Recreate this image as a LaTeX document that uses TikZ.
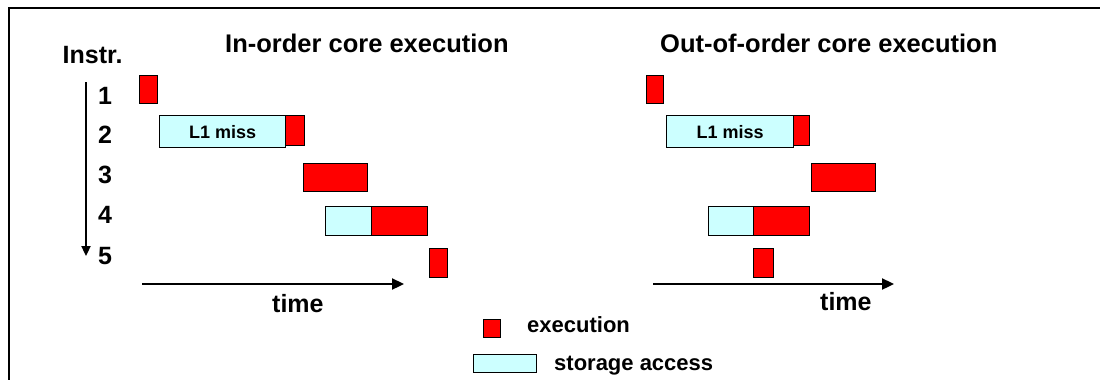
\documentclass[tikz,border=0pt]{standalone}
\usepackage{fontspec}
\setmainfont{Liberation Sans}
\usetikzlibrary{arrows.meta}
\definecolor{execred}{HTML}{FF0000}
\definecolor{storecyan}{HTML}{CCFFFF}
\tikzset{
  bar/.style={draw=black, line width=1.2pt, inner sep=0pt, anchor=north west},
  execbox/.style={bar, fill=execred},
  storebox/.style={bar, fill=storecyan, font=\bfseries\fontsize{18}{20}\selectfont},
  txt/.style={anchor=base west, inner sep=0pt, font=\bfseries\fontsize{#1}{#1}\selectfont},
  axis/.style={line width=2.3pt, -{Triangle[length=12pt,width=11pt]}},
  instrarrow/.style={line width=2.3pt, -{Triangle[length=10pt,width=9pt]}},
}
\newcommand{\bx}[6]{\node[#1, minimum width=#4pt, minimum height=#5pt] (#2) at (#3) {#6};}
\begin{document}
\begin{tikzpicture}[x=1pt,y=-1pt]
\useasboundingbox (0,0) rectangle (1100,380);
\fill[white] (0,0) rectangle (1100,380);
% frame
\draw[line width=1.3pt] (9,380) -- (9,8) -- (1100,8);

% titles
\node[txt=25.5] (tleft) at (225,52) {In-order core execution};
\node[txt=25.5] (tright) at (660,52) {Out-of-order core execution};
\node[txt=25] (instr) at (62.5,63) {Instr.};

% instruction numbers
\node[txt=25] (n1) at (98,104) {1};
\node[txt=25] (n2) at (98,143) {2};
\node[txt=25] (n3) at (98,183) {3};
\node[txt=25] (n4) at (98,223) {4};
\node[txt=25] (n5) at (98,264) {5};
\coordinate (vtop) at (86,82);
\coordinate (vbot) at (86,256);
\draw[instrarrow] (vtop) -- (vbot);

% in-order schedule
\bx{execbox}{l1}{139,75}{18}{28}{}
\bx{storebox}{l2s}{159,115}{126}{32}{L1 miss}
\bx{execbox}{l2e}{285,115}{19}{30}{}
\bx{execbox}{l3}{303,163}{64}{28}{}
\bx{storebox}{l4s}{325,206}{46}{29}{}
\bx{execbox}{l4e}{371,206}{56}{29}{}
\bx{execbox}{l5}{429,248}{18}{29}{}
\coordinate (lt0) at (142,284);
\coordinate (lt1) at (404,284);
\draw[axis] (lt0) -- (lt1);
\node[txt=25] (ltime) at (272,312) {time};

% out-of-order schedule
\bx{execbox}{r1}{646,75}{17}{28}{}
\bx{storebox}{r2s}{666,115}{127}{32}{L1 miss}
\bx{execbox}{r2e}{793,115}{16}{30}{}
\bx{execbox}{r3}{811,163}{64}{28}{}
\bx{storebox}{r4s}{708,206}{45}{29}{}
\bx{execbox}{r4e}{753,206}{56}{29}{}
\bx{execbox}{r5}{753,248}{20}{29}{}
\coordinate (rt0) at (653,284);
\coordinate (rt1) at (894,284);
\draw[axis] (rt0) -- (rt1);
\node[txt=25] (rtime) at (820,310) {time};

% legend
\bx{execbox}{kexec}{483,319}{17}{18}{}
\node[txt=22] (kexect) at (527,332) {execution};
\bx{storebox}{kstore}{473,354}{63}{18}{}
\node[txt=22] (kstoret) at (554,370) {storage access};
\end{tikzpicture}
\end{document}
